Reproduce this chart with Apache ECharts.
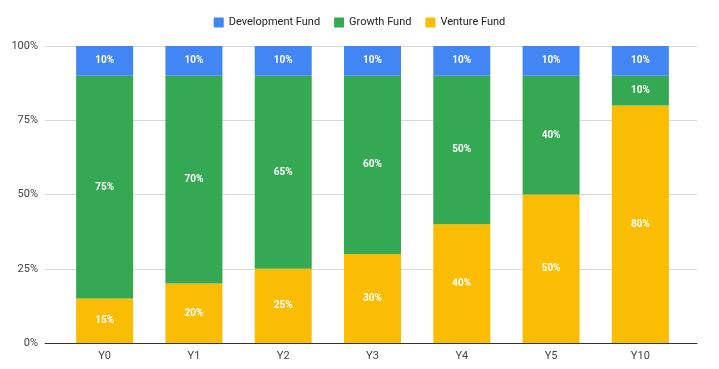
<!DOCTYPE html>
<html><head><meta charset="utf-8">
<script src="https://cdn.jsdelivr.net/npm/echarts@6/dist/echarts.min.js"></script>
<style>html,body{margin:0;padding:0;background:#fff}#c{width:719px;height:369px}</style>
</head><body><div id="c"></div>
<script>
const categories = ['Y0','Y1','Y2','Y3','Y4','Y5','Y10'];
const ventureFund = [15,20,25,30,40,50,80];
const growthFund = [75,70,65,60,50,40,10];
const developmentFund = [10,10,10,10,10,10,10];
const yTicks = [0,25,50,75,100];

const labelStyle = {show:true, position:'inside', color:'#fff', fontFamily:'Roboto', fontWeight:'bold', fontSize:10, formatter: p => p.value + '%'};
const mk = (name, data, color) => ({
  name, type:'bar', stack:'s', barWidth:57, data: data,
  xAxisIndex:0, yAxisIndex:0,
  itemStyle:{color}, label: labelStyle, emphasis:{disabled:true}
});
const chart = echarts.init(document.getElementById('c'));
chart.setOption({
  animation:false,
  legend:{top:12, left:'center', itemWidth:10, itemHeight:10, itemGap:14, icon:'rect',
    textStyle:{fontFamily:'Roboto', fontSize:11, color:'#222'},
    data:['Development Fund','Growth Fund','Venture Fund']},
  grid:[
    {left:60, right:34, top:46, bottom:26},
    {left:45, right:22, top:46, bottom:26}
  ],
  xAxis:[
    {type:'category', gridIndex:0, data:categories,
      axisTick:{show:false}, axisLine:{show:false},
      axisLabel:{fontFamily:'Roboto', fontSize:11, color:'#444', margin:8}},
    {type:'value', gridIndex:1, min:0, max:1, show:true,
      splitLine:{show:false}, axisTick:{show:false}, axisLabel:{show:false},
      axisLine:{show:true, lineStyle:{color:'#333', width:1}}}
  ],
  yAxis:[
    {type:'value', gridIndex:0, min:0, max:100, interval:25, show:false, splitLine:{show:false}},
    {type:'value', gridIndex:1, min:0, max:100, interval:25,
      axisLabel:{formatter: v => yTicks.includes(v) ? v + '%' : '', fontFamily:'Roboto', fontSize:11, color:'#444', margin:7},
      splitLine:{lineStyle:{color:'#d9d9d9'}}, axisLine:{show:false}, axisTick:{show:false}}
  ],
  series:[
    mk('Venture Fund', ventureFund, '#FBBC04'),
    mk('Growth Fund', growthFund, '#34A853'),
    mk('Development Fund', developmentFund, '#4285F4')
  ]
});
</script></body></html>
